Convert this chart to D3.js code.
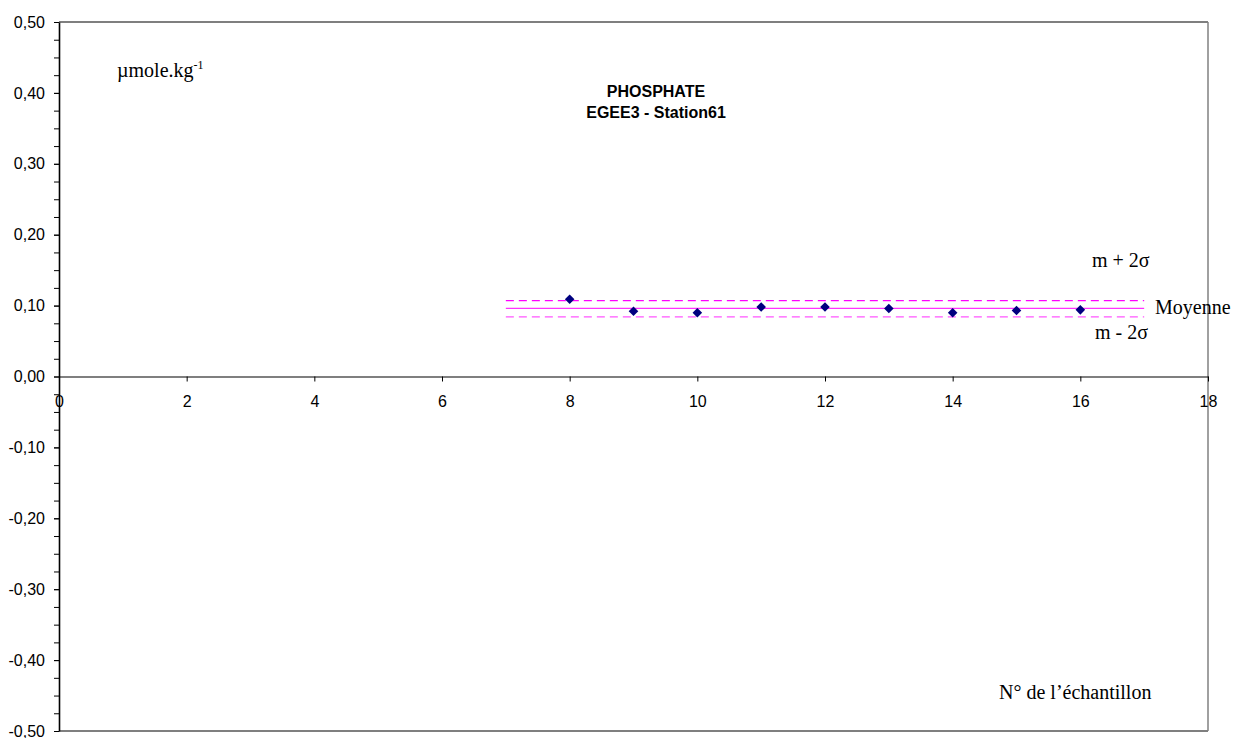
<!DOCTYPE html>
<html>
<head>
<meta charset="utf-8">
<script src="https://d3js.org/d3.v7.min.js"></script>
<style>
  body { margin: 0; background: #fff; }
  .axis text { font-family: Arial, "Liberation Sans", sans-serif; font-size: 16px; fill: #000; }
  .serif { font-family: "Times New Roman", "Liberation Serif", serif; font-size: 20px; fill: #000; }
</style>
</head>
<body>
<script>
// sample numbers and measured phosphate (µmol/kg)
var sampleNo = [8, 9, 10, 11, 12, 13, 14, 15, 16];
var phosphate = [0.109, 0.092, 0.090, 0.098, 0.098, 0.096, 0.090, 0.093, 0.094];

// mean and +/- 2 sigma control lines, drawn from sample 7 to 17
var ctrlSpan = [7, 17];
var meanVal = 0.096;
var upperVal = 0.107;
var lowerVal = 0.084;

// tick labels
var xTicks = [0, 2, 4, 6, 8, 10, 12, 14, 16, 18];
var yTicks = [-0.5, -0.4, -0.3, -0.2, -0.1, 0, 0.1, 0.2, 0.3, 0.4, 0.5];

var width = 1238, height = 738;
var plotLeft = 59, plotRight = 1208, plotTop = 22, plotBottom = 731;

var svg = d3.select('body').append('svg')
    .attr('width', width)
    .attr('height', height);

var x = d3.scaleLinear().domain([0, 18]).range([plotLeft, plotRight]);
var y = d3.scaleLinear().domain([-0.5, 0.5]).range([plotBottom, plotTop]);

// plot area frame: top and bottom black, right gray
svg.append('line').attr('x1', plotLeft).attr('x2', plotRight).attr('y1', plotTop).attr('y2', plotTop)
    .attr('stroke', '#000').attr('stroke-width', 1.2);
svg.append('line').attr('x1', plotLeft).attr('x2', plotRight).attr('y1', plotBottom).attr('y2', plotBottom)
    .attr('stroke', '#000').attr('stroke-width', 1.2);
svg.append('line').attr('x1', plotRight).attr('x2', plotRight).attr('y1', plotTop).attr('y2', plotBottom)
    .attr('stroke', '#808080').attr('stroke-width', 1.5);

// minor y ticks
var minorTicks = d3.range(-0.5, 0.5001, 0.025);
svg.append('g')
    .attr('transform', 'translate(' + plotLeft + ',0)')
    .call(d3.axisLeft(y).tickValues(minorTicks).tickSize(5).tickFormat(''))
    .call(function(g){ g.select('.domain').remove(); })
    .selectAll('line').attr('stroke', '#000');

// y axis
var fmt = function(d){ return d.toFixed(2).replace('.', ','); };
var yAxis = svg.append('g')
    .attr('class', 'axis')
    .attr('transform', 'translate(' + plotLeft + ',0)')
    .call(d3.axisLeft(y).tickValues(yTicks).tickSize(5).tickSizeOuter(0).tickPadding(9).tickFormat(fmt));
yAxis.select('.domain').attr('stroke', '#000').attr('stroke-width', 1.6);

// x axis through zero
var xAxis = svg.append('g')
    .attr('class', 'axis')
    .attr('transform', 'translate(0,' + y(0) + ')')
    .call(d3.axisBottom(x).tickValues(xTicks).tickSize(5).tickSizeOuter(0).tickPadding(14));
xAxis.select('.domain').attr('stroke', '#000').attr('stroke-width', 1.2);

// control lines
function hline(v, color, dash){
    svg.append('line')
        .attr('x1', x(ctrlSpan[0])).attr('x2', x(ctrlSpan[1]))
        .attr('y1', y(v)).attr('y2', y(v))
        .attr('stroke', color)
        .attr('stroke-width', 1.3)
        .attr('stroke-dasharray', dash);
}
hline(upperVal, '#ff00ff', '8,5');
hline(meanVal, '#ff33ff', null);
hline(lowerVal, '#ff55ff', '8,5');

// data points
svg.selectAll('.pt')
    .data(sampleNo)
    .enter()
    .append('path')
    .attr('class', 'pt')
    .attr('d', d3.symbol(d3.symbolSquare, 46))
    .attr('transform', function(d, i){
        return 'translate(' + x(d) + ',' + y(phosphate[i]) + ') rotate(45)';
    })
    .attr('fill', '#000080');

// titles
var title = svg.append('text')
    .attr('text-anchor', 'middle')
    .style('font-family', 'Arial, "Liberation Sans", sans-serif')
    .style('font-weight', 'bold')
    .style('font-size', '16px');
title.append('tspan').attr('x', 656).attr('y', 97).text('PHOSPHATE');
title.append('tspan').attr('x', 656).attr('y', 118).text('EGEE3 - Station61');

// unit label
var unit = svg.append('text').attr('class', 'serif').attr('x', 117).attr('y', 77);
unit.append('tspan').text('µmole.kg');
unit.append('tspan').attr('dy', -8).style('font-size', '12px').text('-1');

// right-hand labels
svg.append('text').attr('class', 'serif').attr('x', 1092).attr('y', 267).text('m + 2σ');
svg.append('text').attr('class', 'serif').attr('x', 1155).attr('y', 314).text('Moyenne');
svg.append('text').attr('class', 'serif').attr('x', 1095).attr('y', 339).text('m - 2σ');

// x axis name
svg.append('text').attr('class', 'serif').attr('x', 999).attr('y', 699).text('N° de l’échantillon');
</script>
</body>
</html>
